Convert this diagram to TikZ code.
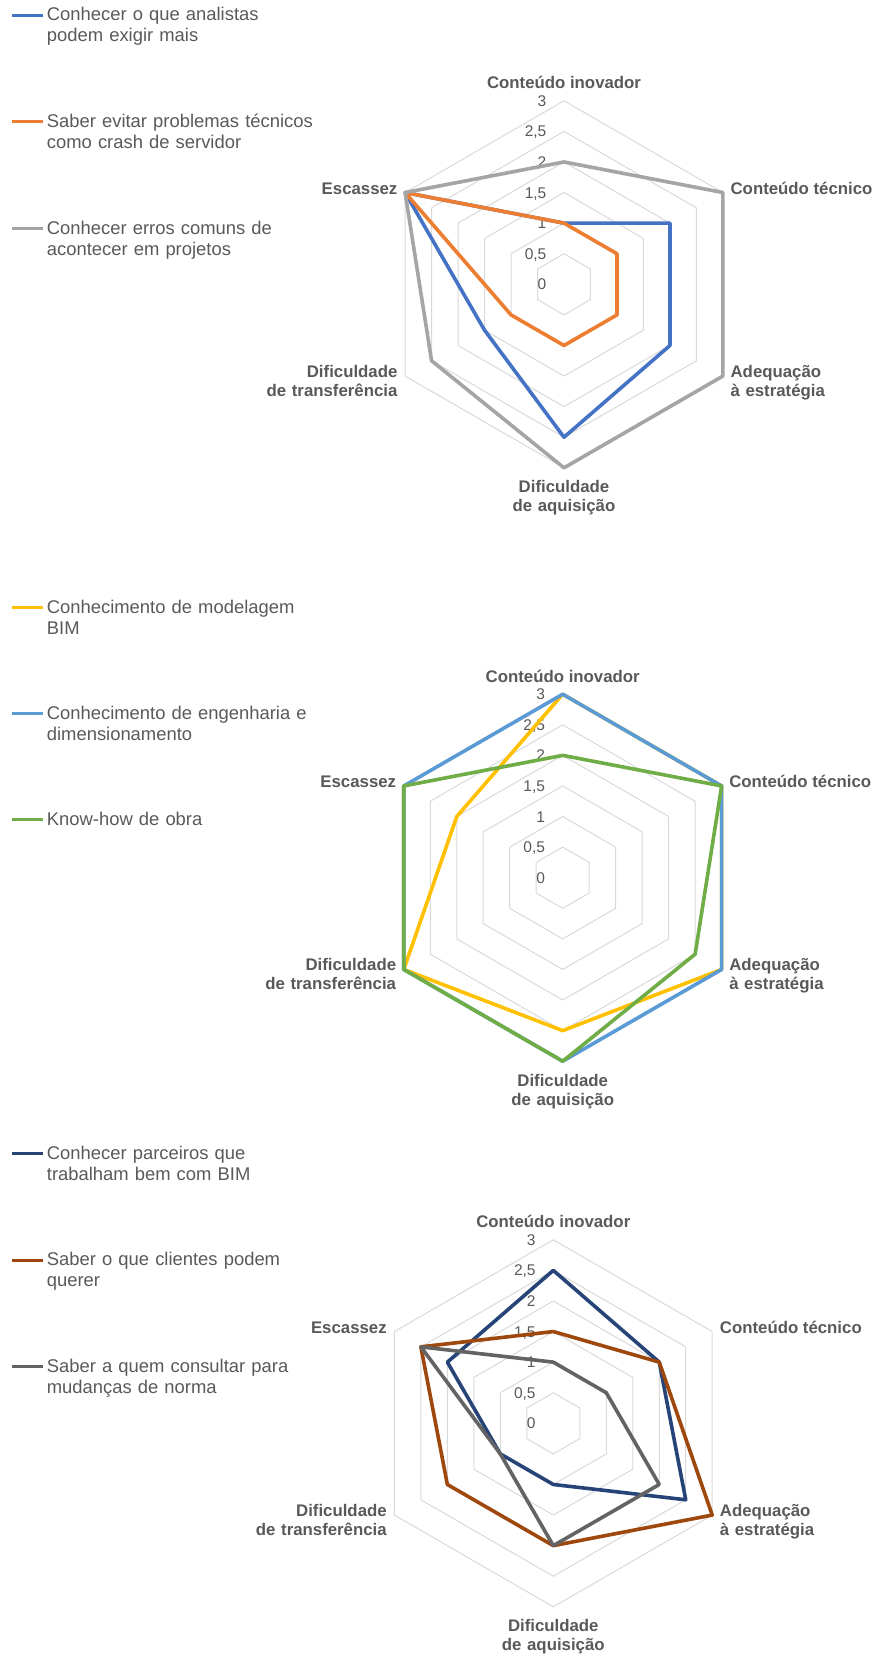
\documentclass[tikz,border=0pt]{standalone}
\usepackage{fontspec}
\setmainfont{Liberation Sans}
\definecolor{txtgray}{HTML}{595959}
\definecolor{gridgray}{HTML}{D9D9D9}
\definecolor{serblue}{HTML}{4472C4}
\definecolor{serorange}{HTML}{ED7D31}
\definecolor{sergray}{HTML}{A5A5A5}
\definecolor{seryellow}{HTML}{FFC000}
\definecolor{serlightblue}{HTML}{5B9BD5}
\definecolor{sergreen}{HTML}{70AD47}
\definecolor{serdarkblue}{HTML}{264478}
\definecolor{serbrown}{HTML}{9E480E}
\definecolor{serdarkgray}{HTML}{636363}
\begin{document}
\begin{tikzpicture}[x=1pt,y=-1pt,
	gridline/.style={draw=gridgray,line width=1pt,line join=round},
	series/.style={line width=3.6pt,line join=round},
	legline/.style={line width=3pt},
	legtext/.style={anchor=base west,inner sep=0pt,text width=300pt,align=left,text=txtgray,font=\fontsize{18.4}{21}\selectfont},
	axtext/.style={inner sep=0pt,text=txtgray,font=\bfseries\fontsize{16.8}{19}\selectfont},
	ticktext/.style={anchor=base east,inner sep=0pt,text=txtgray,font=\fontsize{15.5}{18}\selectfont}]
	\newcommand{\myunit}{61.17}
	\newcommand{\myseries}[7]{
		\draw[series,#1] (-90:{#2*\myunit}) -- (-30:{#3*\myunit}) -- (30:{#4*\myunit}) -- (90:{#5*\myunit}) -- (150:{#6*\myunit}) -- (210:{#7*\myunit}) -- cycle;
	}
	\useasboundingbox (0,0) rectangle (879,1657);
	%Centers of the three charts
	\coordinate (c1) at (564,284.3);
	\coordinate (c2) at (562.7,877.7);
	\coordinate (c3) at (553.3,1423.3);
	%Grid rings, tick values and axis names
	\foreach \n in {1,2,3} {
		\begin{scope}[shift={(c\n)}]
			\foreach \r in {0.5,1,...,3} {
				\draw[gridline] (-90:{\r*\myunit}) \foreach \a in {-30,30,90,150,210} {-- (\a:{\r*\myunit})} -- cycle;
			}
			\foreach \v/\lbl [count=\k] in {0/0,0.5/{0,5},1/1,1.5/{1,5},2/2,2.5/{2,5},3/3} {
				\node[ticktext] (tick\n-\k) at (-17.5,{-\v*\myunit+5.5}) {\lbl};
			}
			\node[axtext,anchor=base] (inov\n) at (0,-195.5) {Conteúdo inovador};
			\node[axtext,anchor=base west] (tecn\n) at (166.4,-89.75) {Conteúdo técnico};
			\node[axtext,anchor=base west,text width=140pt,align=left] (adeq\n) at (166.4,92.75) {Adequação\\à estratégia};
			\node[axtext,anchor=base,text width=140pt,align=center] (aqui\n) at (0,208.5) {Dificuldade\\de aquisição};
			\node[axtext,anchor=base east,text width=140pt,align=right] (tran\n) at (-166.4,92.75) {Dificuldade\\de transferência};
			\node[axtext,anchor=base east] (esca\n) at (-166.4,-89.75) {Escassez};
		\end{scope}
	}
	%Series chart 1
	\begin{scope}[shift={(c1)}]
		\myseries{serblue}{1}{2}{2}{2.5}{1.5}{3}
		\myseries{serorange}{1}{1}{1}{1}{1}{3}
		\myseries{sergray}{2}{3}{3}{3}{2.5}{3}
	\end{scope}
	%Series chart 2
	\begin{scope}[shift={(c2)}]
		\myseries{seryellow}{3}{3}{3}{2.5}{3}{2}
		\myseries{serlightblue}{3}{3}{3}{3}{3}{3}
		\myseries{sergreen}{2}{3}{2.5}{3}{3}{3}
	\end{scope}
	%Series chart 3
	\begin{scope}[shift={(c3)}]
		\myseries{serdarkblue}{2.5}{2}{2.5}{1}{1}{2}
		\myseries{serbrown}{1.5}{2}{3}{2}{2}{2.5}
		\myseries{serdarkgray}{1}{1}{2}{2}{1}{2.5}
	\end{scope}
	%Legend chart 1
	\draw[legline,serblue] (12,15) -- (43,15);
	\node[legtext] (leg1a) at (46.7,20.7) {Conhecer o que analistas\\podem exigir mais};
	\draw[legline,serorange] (12,121.7) -- (43,121.7);
	\node[legtext] (leg1b) at (46.7,127.4) {Saber evitar problemas técnicos\\como crash de servidor};
	\draw[legline,sergray] (12,228.3) -- (43,228.3);
	\node[legtext] (leg1c) at (46.7,234) {Conhecer erros comuns de\\acontecer em projetos};
	%Legend chart 2
	\draw[legline,seryellow] (12,607.3) -- (43,607.3);
	\node[legtext] (leg2a) at (46.7,613) {Conhecimento de modelagem\\BIM};
	\draw[legline,serlightblue] (12,713.3) -- (43,713.3);
	\node[legtext] (leg2b) at (46.7,719) {Conhecimento de engenharia e\\dimensionamento};
	\draw[legline,sergreen] (12,819.3) -- (43,819.3);
	\node[legtext] (leg2c) at (46.7,825) {Know-how de obra};
	%Legend chart 3
	\draw[legline,serdarkblue] (12,1153.3) -- (43,1153.3);
	\node[legtext] (leg3a) at (46.7,1159) {Conhecer parceiros que\\trabalham bem com BIM};
	\draw[legline,serbrown] (12,1260) -- (43,1260);
	\node[legtext] (leg3b) at (46.7,1265.7) {Saber o que clientes podem\\querer};
	\draw[legline,serdarkgray] (12,1366.7) -- (43,1366.7);
	\node[legtext] (leg3c) at (46.7,1372.4) {Saber a quem consultar para\\mudanças de norma};
\end{tikzpicture}
\end{document}
